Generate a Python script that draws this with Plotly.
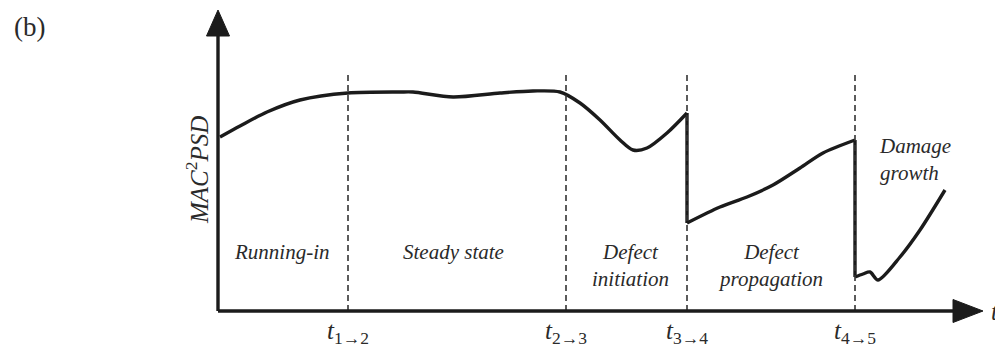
import plotly.graph_objects as go

# Transition instants between wear stages (time units along the horizontal axis)
t_transitions = [130, 348, 469, 637]
t_labels = ["1→2", "2→3", "3→4", "4→5"]

# MAC²PSD indicator, one array pair per continuous stretch of the curve
seg1_t = [2, 22, 49, 82, 130, 182, 195, 235, 282, 315, 342, 362, 382, 402, 415, 429, 449, 469]
seg1_v = [174, 185, 199, 211, 218, 219, 219, 214, 218, 220, 219, 208, 191, 171, 161, 163, 178, 198]

seg2_t = [469, 502, 529, 555, 582, 605, 637]
seg2_v = [88, 104, 114, 126, 143, 158, 171]

seg3_t = [637, 645, 652, 660, 682, 702, 727]
seg3_v = [34, 37, 39, 31, 54, 81, 121]

# Stage names and where they sit (time, level)
stage_names = ["Running-in", "Steady state", "Defect<br>initiation",
               "Defect<br>propagation", "Damage<br>growth"]
stage_t = [64, 235, 412, 552, 659]
stage_v = [59, 59, 46, 46, 152]
stage_anchor = ["center", "center", "center", "center", "left"]

X_MAX, Y_MAX = 765, 301
INK = "#1b1b1b"
TXT = "#2a2a2a"
SERIF = "Liberation Serif, Times New Roman, serif"

fig = go.Figure()

line_style = dict(color=INK, width=3.4)
for tt, vv in [(seg1_t, seg1_v), (seg2_t, seg2_v), (seg3_t, seg3_v)]:
    fig.add_trace(go.Scatter(x=tt, y=vv, mode="lines",
                             line=dict(shape="spline", smoothing=0.8, **line_style),
                             hoverinfo="skip", showlegend=False))

# Sudden drops at the stage transitions
fig.add_trace(go.Scatter(x=[seg1_t[-1], seg2_t[0]], y=[seg1_v[-1], seg2_v[0]], mode="lines",
                         line=line_style, hoverinfo="skip", showlegend=False))
fig.add_trace(go.Scatter(x=[seg2_t[-1], seg3_t[0]], y=[seg2_v[-1], seg3_v[0]], mode="lines",
                         line=line_style, hoverinfo="skip", showlegend=False))

shapes = []
# Dashed stage boundaries
for tx in t_transitions:
    shapes.append(dict(type="line", xref="x", yref="paper", x0=tx, x1=tx, y0=0, y1=0.79,
                       line=dict(color="#333333", width=1.6, dash="6px,4px")))

# Axis lines with arrowheads (paper coordinates)
ax_w = 3.4
hx = 11.5 / 765   # half width of the vertical arrowhead in paper x
hy = 11.5 / 301   # half height of the horizontal arrowhead in paper y
yb = (311 - 36) / 301
xb = (953 - 218) / 765
shapes.append(dict(type="line", xref="paper", yref="paper", x0=0, x1=0, y0=0, y1=yb,
                   line=dict(color=INK, width=ax_w)))
shapes.append(dict(type="line", xref="paper", yref="paper", x0=0, x1=xb, y0=0, y1=0,
                   line=dict(color=INK, width=ax_w)))
shapes.append(dict(type="path", xref="paper", yref="paper",
                   path=f"M {-hx} {yb} L 0 1 L {hx} {yb} Z",
                   fillcolor=INK, line=dict(color=INK, width=1)))
shapes.append(dict(type="path", xref="paper", yref="paper",
                   path=f"M {xb} {-hy} L 1 0 L {xb} {hy} Z",
                   fillcolor=INK, line=dict(color=INK, width=1)))

annotations = []
# Transition tick labels
for tx, lab in zip(t_transitions, t_labels):
    annotations.append(dict(x=tx, y=-0.072, xref="x", yref="paper",
                            text=f"<i>t</i><sub>{lab}</sub>", showarrow=False,
                            xanchor="center", yanchor="middle",
                            font=dict(family=SERIF, size=25, color=TXT)))
# Stage names
for name, sx, sy, anc in zip(stage_names, stage_t, stage_v, stage_anchor):
    annotations.append(dict(x=sx, y=sy, xref="x", yref="y", text=f"<i>{name}</i>",
                            showarrow=False, xanchor=anc, yanchor="middle", align=anc,
                            font=dict(family=SERIF, size=21, color=TXT)))
# Axis titles and panel tag
annotations.append(dict(x=-21 / 765, y=(311 - 170) / 301, xref="paper", yref="paper",
                        text="<i>MAC</i><sup>2</sup><i>PSD</i>", textangle=-90,
                        showarrow=False, xanchor="center", yanchor="middle",
                        font=dict(family=SERIF, size=25, color=TXT)))
annotations.append(dict(x=1 + 6 / 765, y=0, xref="paper", yref="paper",
                        text="<i>t</i>", showarrow=False, xanchor="left", yanchor="middle",
                        font=dict(family=SERIF, size=25, color=TXT)))
annotations.append(dict(x=-206 / 765, y=(311 - 27) / 301, xref="paper", yref="paper",
                        text="(b)", showarrow=False, xanchor="left", yanchor="middle",
                        font=dict(family=SERIF, size=27, color=TXT)))

fig.update_layout(
    width=995, height=349,
    margin=dict(l=218, r=12, t=10, b=38),
    paper_bgcolor="white", plot_bgcolor="white",
    xaxis=dict(range=[0, X_MAX], visible=False, fixedrange=True),
    yaxis=dict(range=[0, Y_MAX], visible=False, fixedrange=True),
    shapes=shapes, annotations=annotations,
    showlegend=False,
)

fig.write_html("out.html")
